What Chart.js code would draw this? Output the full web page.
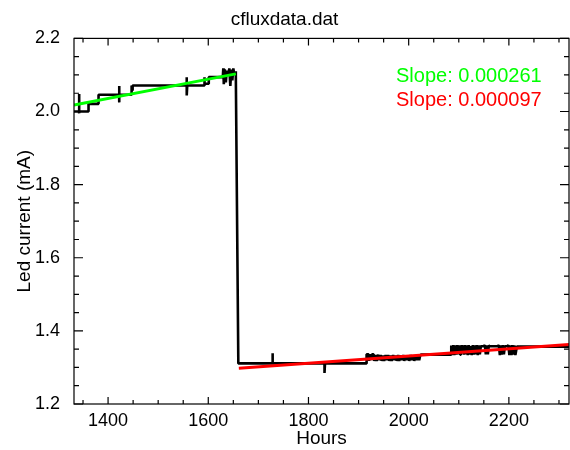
<!DOCTYPE html>
<html>
<head>
<meta charset="utf-8">
<script src="https://cdn.jsdelivr.net/npm/chart.js@4/dist/chart.umd.min.js"></script>
<style>
  html, body { margin: 0; padding: 0; background: #fff; }
</style>
</head>
<body>
<canvas id="fluxChart" width="570" height="450"></canvas>
<script>
// LED current trace (hours, mA)
var hours = [
  1332, 1342, 1342, 1342, 1343, 1361, 1361, 1381, 1381, 1422, 1422, 1422, 1423,
  1447, 1447, 1448, 1449, 1557, 1557, 1557, 1558, 1592, 1592, 1593, 1601, 1601, 1629,
  1630, 1631, 1633, 1635, 1637, 1640, 1642, 1644, 1646, 1648, 1650, 1652, 1654, 1655,
  1660, 1728, 1728, 1729, 1832, 1832, 1833, 1916,
  1916, 1920, 1921, 1923, 1925, 1927, 1930, 1931, 1934, 1936, 1939, 1941, 1944, 1946,
  1949, 1951, 1954, 1956, 1959, 1961, 1964, 1966, 1969, 1971, 1974, 1976, 1979, 1981,
  1984, 1986, 1989, 1991, 1994, 1996, 1999, 2001, 2004, 2006, 2009, 2011, 2014, 2016,
  2019, 2021, 2023, 2025,
  2085, 2085, 2087, 2089, 2091, 2093, 2095, 2097, 2099, 2101, 2103, 2104, 2108, 2110, 2112,
  2114, 2116, 2118, 2120, 2122, 2124, 2126, 2128, 2130, 2132, 2134, 2136, 2138, 2140,
  2142, 2144, 2150, 2152, 2154, 2156, 2158, 2160, 2162, 2178, 2180, 2182, 2184, 2186,
  2188, 2190, 2192, 2197, 2199, 2201, 2203, 2205, 2207, 2209, 2211, 2213, 2216, 2320
];
var current = [
  2.000, 2.000, 2.048, 1.995, 2.000, 2.000, 2.021, 2.021, 2.046, 2.046, 2.070, 2.025, 2.046,
  2.046, 2.071, 2.058, 2.071, 2.071, 2.094, 2.044, 2.071, 2.071, 2.094, 2.076, 2.076, 2.094, 2.094,
  2.118, 2.075, 2.115, 2.080, 2.112, 2.100, 2.118, 2.070, 2.115, 2.085, 2.118, 2.100, 2.110, 2.100,
  1.311, 1.311, 1.339, 1.311, 1.311, 1.285, 1.311, 1.311,
  1.336, 1.336, 1.318, 1.336, 1.320, 1.336, 1.336, 1.318, 1.334, 1.318, 1.335, 1.320, 1.334, 1.318,
  1.333, 1.318, 1.334, 1.320, 1.334, 1.318, 1.333, 1.318, 1.334, 1.320, 1.333, 1.318, 1.334, 1.318,
  1.333, 1.320, 1.334, 1.318, 1.333, 1.320, 1.333, 1.318, 1.334, 1.320, 1.333, 1.318, 1.333, 1.320,
  1.332, 1.320, 1.333, 1.335,
  1.335, 1.360, 1.334, 1.361, 1.334, 1.360, 1.335, 1.361, 1.336, 1.360, 1.335, 1.358, 1.358, 1.335, 1.361,
  1.336, 1.360, 1.334, 1.361, 1.335, 1.358, 1.334, 1.361, 1.335, 1.360, 1.336, 1.361, 1.334, 1.360,
  1.336, 1.358, 1.358, 1.361, 1.336, 1.360, 1.336, 1.360, 1.358, 1.358, 1.361, 1.334, 1.360, 1.335,
  1.361, 1.336, 1.358, 1.358, 1.361, 1.334, 1.360, 1.334, 1.361, 1.335, 1.360, 1.334, 1.357, 1.357
];

// linear fits
var greenFitHours = [1332, 1655];
var greenFitCurrent = [2.018, 2.103];
var redFitHours = [1661, 2320];
var redFitCurrent = [1.2975, 1.363];

var slopeLabels = ['Slope: 0.000261', 'Slope: 0.000097'];
var slopeColors = ['#00ff00', '#ff0000'];

var xTicks = [1350, 1400, 1450, 1500, 1550, 1600, 1650, 1700, 1750, 1800, 1850, 1900,
  1950, 2000, 2050, 2100, 2150, 2200, 2250, 2300];
var xLabelTicks = [1400, 1600, 1800, 2000, 2200];
var yTicks = [1.2, 1.25, 1.3, 1.35, 1.4, 1.45, 1.5, 1.55, 1.6, 1.65, 1.7, 1.75, 1.8,
  1.85, 1.9, 1.95, 2.0, 2.05, 2.1, 2.15, 2.2];
var yLabelTicks = [1.2, 1.4, 1.6, 1.8, 2.0, 2.2];

function isMajor(list, v) {
  return list.some(function(m) { return Math.abs(m - v) < 1e-6; });
}

function toPoints(xs, ys) {
  return xs.map(function(x, i) { return {x: x, y: ys[i]}; });
}

// frame round the plot with inward ticks on all four sides
var frameTicks = {
  id: 'frameTicks',
  afterDraw: function(chart) {
    var ctx = chart.ctx, a = chart.chartArea;
    var xs = chart.scales.x, ys = chart.scales.y;
    ctx.save();
    ctx.strokeStyle = '#000';
    ctx.lineWidth = 1.2;
    ctx.strokeRect(a.left, a.top, a.right - a.left, a.bottom - a.top);
    ctx.beginPath();
    xTicks.forEach(function(v) {
      var px = xs.getPixelForValue(v);
      var len = isMajor(xLabelTicks, v) ? 7 : 4;
      ctx.moveTo(px, a.bottom); ctx.lineTo(px, a.bottom - len);
      ctx.moveTo(px, a.top); ctx.lineTo(px, a.top + len);
    });
    yTicks.forEach(function(v) {
      var py = ys.getPixelForValue(v);
      var len = isMajor(yLabelTicks, v) ? 9 : 5;
      ctx.moveTo(a.left, py); ctx.lineTo(a.left + len, py);
      ctx.moveTo(a.right, py); ctx.lineTo(a.right - len, py);
    });
    ctx.stroke();
    ctx.restore();
  }
};

var slopeText = {
  id: 'slopeText',
  afterDraw: function(chart) {
    var ctx = chart.ctx;
    ctx.save();
    ctx.font = '20px "Liberation Sans", Arial, sans-serif';
    ctx.textAlign = 'left';
    ctx.textBaseline = 'middle';
    slopeLabels.forEach(function(t, i) {
      ctx.fillStyle = slopeColors[i];
      ctx.fillText(t, 396, 76 + i * 24);
    });
    ctx.restore();
  }
};

Chart.defaults.font.family = '"Liberation Sans", Arial, sans-serif';
Chart.defaults.color = '#000';

var ctx = document.getElementById('fluxChart').getContext('2d');
var chart = new Chart(ctx, {
  type: 'line',
  data: {
    datasets: [{
      label: 'fit1',
      data: toPoints(greenFitHours, greenFitCurrent),
      borderColor: '#00ff00',
      borderWidth: 3,
      pointRadius: 0
    }, {
      label: 'fit2',
      data: toPoints(redFitHours, redFitCurrent),
      borderColor: '#ff0000',
      borderWidth: 3,
      pointRadius: 0
    }, {
      label: 'cflux',
      data: toPoints(hours, current),
      borderColor: '#000',
      borderWidth: 2.6,
      borderJoinStyle: 'bevel',
      pointRadius: 0
    }]
  },
  options: {
    responsive: false,
    animation: false,
    devicePixelRatio: 1,
    layout: { padding: { left: 0, right: 1, top: 0, bottom: 0 } },
    plugins: {
      legend: { display: false },
      tooltip: { enabled: false },
      title: {
        display: true,
        text: 'cfluxdata.dat',
        font: { size: 19, weight: 'normal' },
        padding: { top: 8.2, bottom: 7.4 }
      }
    },
    scales: {
      x: {
        type: 'linear',
        min: 1332,
        max: 2320,
        grid: { display: false },
        border: { display: false },
        afterBuildTicks: function(scale) {
          scale.ticks = xTicks.map(function(v) { return {value: v}; });
        },
        afterFit: function(scale) { scale.height = 46; },
        ticks: {
          autoSkip: false,
          maxRotation: 0,
          padding: -2,
          font: { size: 18 },
          callback: function(v) { return isMajor(xLabelTicks, v) ? String(v) : ''; }
        },
        title: {
          display: true,
          text: 'Hours',
          font: { size: 19 },
          padding: { top: 0, bottom: 0 }
        }
      },
      y: {
        type: 'linear',
        min: 1.2,
        max: 2.2,
        grid: { display: false },
        border: { display: false },
        afterBuildTicks: function(scale) {
          scale.ticks = yTicks.map(function(v) { return {value: v}; });
        },
        afterFit: function(scale) { scale.width = 74; },
        ticks: {
          autoSkip: false,
          padding: 6,
          font: { size: 18 },
          callback: function(v) { return isMajor(yLabelTicks, v) ? v.toFixed(1) : ''; }
        },
        title: {
          display: true,
          text: 'Led current (mA)',
          font: { size: 19 },
          padding: { top: 13, bottom: 0 }
        }
      }
    }
  },
  plugins: [frameTicks, slopeText]
});
</script>
</body>
</html>
